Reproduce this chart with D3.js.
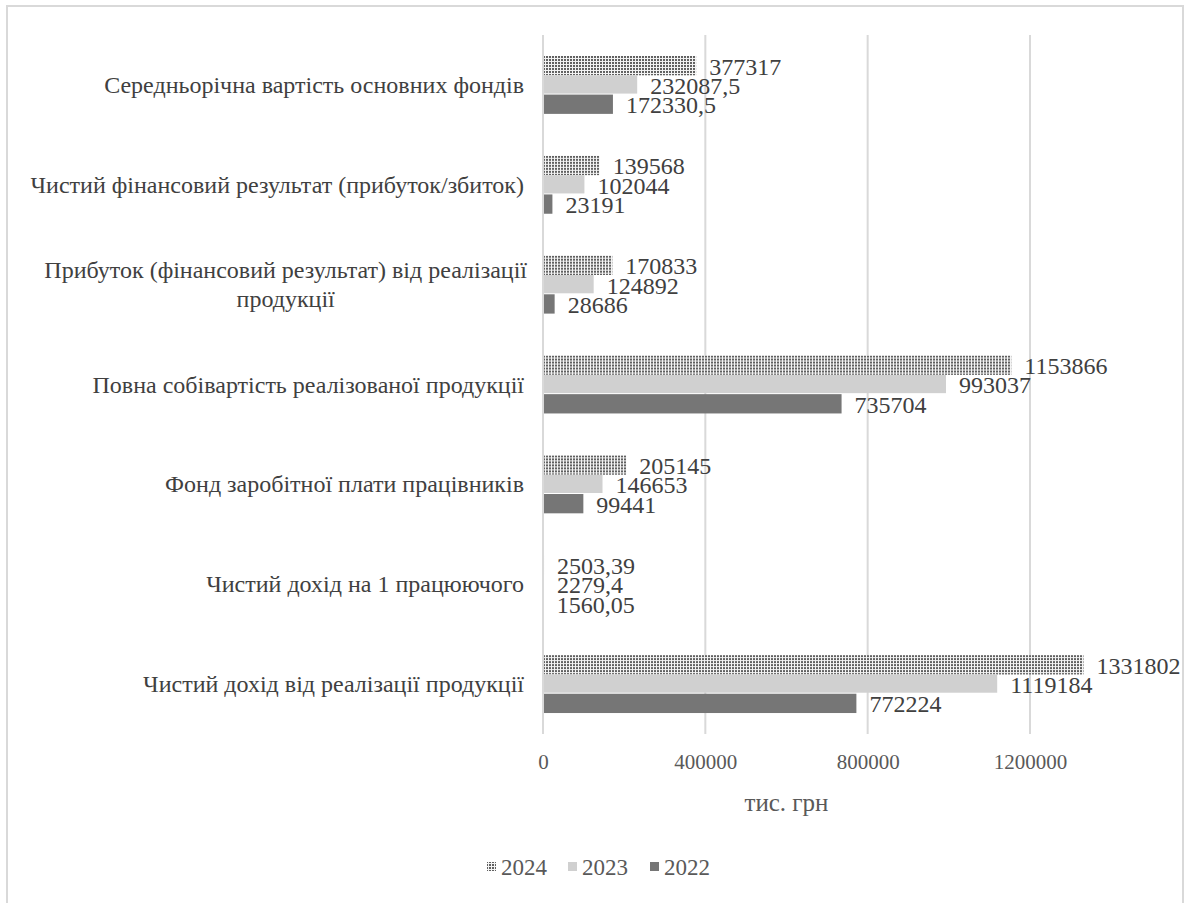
<!DOCTYPE html>
<html lang="uk">
<head>
<meta charset="utf-8">
<script src="https://cdn.jsdelivr.net/npm/d3@7"></script>
<style>
  html, body { margin: 0; padding: 0; background: #fff; }
  svg { display: block; }
  text { font-family: "Liberation Serif", "Times New Roman", serif; }
</style>
</head>
<body>
<svg id="chart" width="1187" height="903"></svg>
<script>
// Indicators, listed from the top of the chart to the bottom
const categories = [
  "Середньорічна вартість основних фондів",
  "Чистий фінансовий результат (прибуток/збиток)",
  "Прибуток (фінансовий результат) від реалізації|продукції",
  "Повна собівартість реалізованої продукції",
  "Фонд заробітної плати працівників",
  "Чистий дохід на 1 працюючого",
  "Чистий дохід від реалізації продукції"
];

const years = ["2024", "2023", "2022"];

const values2024 = [377317, 139568, 170833, 1153866, 205145, 2503.39, 1331802];
const values2023 = [232087.5, 102044, 124892, 993037, 146653, 2279.4, 1119184];
const values2022 = [172330.5, 23191, 28686, 735704, 99441, 1560.05, 772224];

const tickValues = [0, 400000, 800000, 1200000];
const axisTitle = "тис. грн";

const seriesValues = { "2024": values2024, "2023": values2023, "2022": values2022 };

const svg = d3.select("#chart");

// outer frame
svg.append("rect")
  .attr("x", 7).attr("y", 6)
  .attr("width", 1176).attr("height", 920)
  .attr("fill", "#fff")
  .attr("stroke", "#d9d9d9").attr("stroke-width", 2);

// dotted fill for the 2024 series
const defs = svg.append("defs");
const pat = defs.append("pattern")
  .attr("id", "dots").attr("patternUnits", "userSpaceOnUse")
  .attr("width", 3).attr("height", 3);
pat.append("rect").attr("width", 3).attr("height", 3).attr("fill", "#f4f4f4");
pat.append("rect").attr("x", 0).attr("y", 0).attr("width", 2).attr("height", 2).attr("fill", "#606060");

const fills = { "2024": "url(#dots)", "2023": "#d0d0d0", "2022": "#767676" };

const plot = { left: 543, right: 1030, top: 35, bottom: 734 };

const x = d3.scaleLinear().domain([0, 1200000]).range([plot.left, plot.right]);
const y = d3.scaleBand().domain(categories).range([plot.top, plot.bottom])
  .paddingInner(0.42).paddingOuter(0.21);
const ySub = d3.scaleBand().domain(years).range([0, y.bandwidth()]);

// vertical gridlines
svg.append("g").selectAll("line")
  .data(tickValues)
  .join("line")
  .attr("x1", d => x(d)).attr("x2", d => x(d))
  .attr("y1", plot.top).attr("y2", plot.bottom)
  .attr("stroke", "#d9d9d9").attr("stroke-width", 2);

// bars and their value labels
const groups = svg.append("g").selectAll("g")
  .data(categories)
  .join("g")
  .attr("transform", d => `translate(0,${y(d)})`);

groups.each(function (cat, i) {
  const g = d3.select(this);
  years.forEach(yr => {
    const v = seriesValues[yr][i];
    g.append("rect")
      .attr("x", x(0))
      .attr("y", ySub(yr))
      .attr("width", Math.max(0, x(v) - x(0)))
      .attr("height", ySub.bandwidth() - (yr === "2023" ? 1 : 0))
      .attr("fill", fills[yr]);
  });
  years.forEach(yr => {
    const v = seriesValues[yr][i];
    g.append("text")
      .attr("x", x(v) + 13)
      .attr("y", ySub(yr) + ySub.bandwidth() / 2 + 1)
      .attr("dominant-baseline", "central")
      .attr("font-size", 24)
      .attr("fill", "#404040")
      .text(String(v).replace(".", ","));
  });
});

// axis line at zero
svg.append("line")
  .attr("x1", x(0)).attr("x2", x(0))
  .attr("y1", plot.top).attr("y2", plot.bottom)
  .attr("stroke", "#d9d9d9").attr("stroke-width", 2);

// category labels
const catLabels = svg.append("g");
const catFont = 24;
categories.forEach(cat => {
  const lines = cat.split("|");
  const cy = y(cat) + y.bandwidth() / 2;
  const lh = 29;
  const t = catLabels.append("text")
    .attr("font-size", catFont)
    .attr("fill", "#404040");
  if (lines.length === 1) {
    t.attr("x", 524).attr("y", cy).attr("dominant-baseline", "central")
      .attr("text-anchor", "end").text(lines[0]);
  } else {
    const first = t.attr("x", 527).attr("y", cy - lh / 2)
      .attr("dominant-baseline", "central").attr("text-anchor", "end").text(lines[0]);
    const w = first.node().getComputedTextLength();
    catLabels.append("text")
      .attr("font-size", catFont).attr("fill", "#404040")
      .attr("x", 527 - w / 2).attr("y", cy + lh / 2)
      .attr("dominant-baseline", "central").attr("text-anchor", "middle")
      .text(lines[1]);
  }
});

// x axis tick labels
const xAxis = d3.axisBottom(x).tickValues(tickValues).tickSize(0).tickPadding(0)
  .tickFormat(d3.format("d"));
const ax = svg.append("g").attr("transform", `translate(0,${plot.bottom + 20})`).call(xAxis);
ax.select(".domain").remove();
ax.selectAll("text")
  .attr("font-family", "Liberation Serif, Times New Roman, serif")
  .attr("font-size", 21).attr("fill", "#595959");

// axis title
svg.append("text")
  .attr("x", (plot.left + plot.right) / 2)
  .attr("y", 802)
  .attr("dominant-baseline", "central")
  .attr("text-anchor", "middle")
  .attr("font-size", 25)
  .attr("fill", "#595959")
  .text(axisTitle);

// legend
const legendX = [487, 568, 650];
const legend = svg.append("g");
years.forEach((yr, i) => {
  legend.append("rect")
    .attr("x", legendX[i]).attr("y", 862)
    .attr("width", 9).attr("height", 9)
    .attr("fill", fills[yr]);
  legend.append("text")
    .attr("x", legendX[i] + 14).attr("y", 867)
    .attr("dominant-baseline", "central")
    .attr("font-size", 23).attr("fill", "#595959")
    .text(yr);
});
</script>
</body>
</html>
